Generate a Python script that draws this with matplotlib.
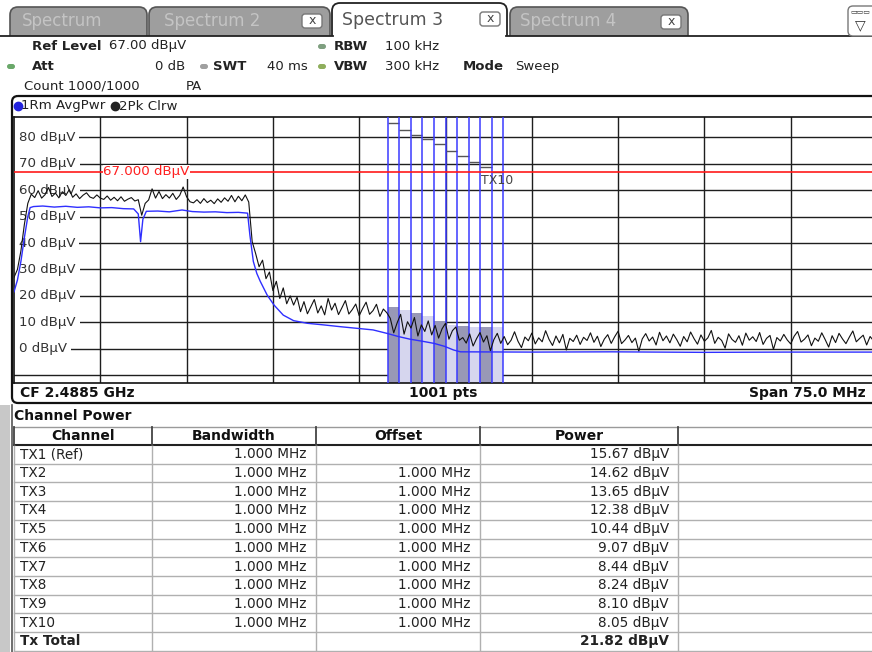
import matplotlib.pyplot as plt
import numpy as np
from matplotlib.patches import FancyBboxPatch, Rectangle

# ---- trace data (MHz from start of span, dBuV) ----
sweep_step = 0.3  # MHz between samples of the peak trace
pk_clrw = [
    27, 30, 37, 47, 55,
    58.5, 57.2, 59.8, 57.0, 58.3, 61.0, 57.6, 58.9, 57.1, 59.4, 58.0, 60.2, 57.3, 58.6, 56.8, 58.1,
    59.0, 57.4, 56.9, 58.2, 57.0, 56.5, 57.8, 56.2, 57.3, 56.0, 57.5, 55.8, 56.6, 57.2, 55.9, 56.4,
    50.5,
    55.0, 56.3, 60.5, 57.0, 59.5, 56.8, 58.3, 57.0, 58.8, 56.5, 58.0, 61.2, 57.5, 55.6, 55.2, 56.4,
    55.0, 56.8, 55.3, 56.2, 54.9, 56.7, 55.4, 57.1, 55.8, 58.0, 55.6, 57.7, 56.0, 58.2, 55.5,
    40.5, 36.0, 31.0, 33.5, 26.5, 29.0, 22.0, 25.5, 19.0, 23.0, 17.0, 20.0,
    16.5, 19.5, 14.0, 17.8, 13.2, 15.9, 18.6, 13.5, 16.2, 12.8, 19.0, 14.6, 17.2, 12.9, 15.5, 18.2,
    13.1, 14.8, 16.9, 12.5, 15.2, 17.6, 13.0, 14.4, 16.8, 12.2, 15.0, 13.6,
    11.5, 6.0, 9.8, 13.0, 5.5, 10.2, 7.8, 11.8, 4.8, 9.0, 6.5, 10.5, 5.2, 8.8, 4.0, 7.5, 9.6, 3.6,
    6.8, 8.2, 3.2,
    4.2, 2.1, 5.6, 1.0, 3.8, 6.1, 2.5, 4.9, -0.8, 3.4, 5.8, 2.0,
    4.6, 1.5, 3.2, 6.4, 2.8, 0.4, 4.4, 3.0, 5.9, 1.8, 4.1, 2.6,
    6.8, 3.5, 1.2, 4.8, 2.2, 5.4, -0.5, 3.9, 2.7, 5.1, 1.6, 4.3,
    3.1, 6.0, 2.4, 4.7, 0.8, 3.6, 5.3, 2.0, 4.5, 6.6, 1.9, 3.3,
    5.0, 2.3, 4.0, -1.0, 3.7, 5.7, 2.9, 4.4, 1.4, 6.2, 3.0, 4.8,
    2.2, 5.5, 3.4, 0.9, 4.6, 2.6, 6.3, 3.8, 1.7, 5.2, 2.8, 4.1,
    6.9, 2.0, 4.3, 3.1, 0.2, 5.6, 3.5, 2.4, 4.9, 1.3, 5.9, 3.2,
    4.5, 2.7, 6.1, 1.6, 3.9, 5.0, -0.3, 4.2, 2.9, 5.4, 3.3, 1.8,
    4.7, 6.5, 2.5, 3.6, 5.2, 1.1, 4.0, 2.8, 6.0, 3.4, 0.6, 4.9,
    2.3, 5.8, 3.7, 1.9, 4.4, 6.7, 2.6, 3.9, 5.1, 1.4, 4.6, 3.0,
]
avg_f = [0.0, 0.3, 0.6, 0.9, 1.2, 1.4, 1.7, 2.5, 3.5, 4.5, 5.5, 6.5, 7.5, 8.5, 9.5, 10.4, 10.8,
         11.0, 11.2, 11.5, 12.5, 13.5, 14.6, 15.5, 16.5, 17.5, 18.5, 19.5, 20.3, 20.5, 20.8, 21.1,
         21.4, 22.0, 22.6, 23.4, 24.3, 25.5, 26.9, 28.4, 29.8, 31.2, 32.4, 33.4, 34.4, 35.5, 36.5,
         37.4, 38.2, 38.8, 45.0, 52.0, 60.0, 67.0, 74.6]
avg_db = [21.5, 26.0, 33.0, 42.0, 50.0, 53.4, 53.8, 54.0, 53.6, 53.9, 53.5, 53.7, 53.3, 53.4, 53.0,
          52.9, 51.0, 40.5, 49.0, 52.0, 52.1, 51.8, 52.5, 51.9, 51.7, 51.8, 51.5, 51.6, 51.3, 43.0,
          33.0, 28.5, 25.5, 20.3, 16.5, 12.7, 10.6, 9.6, 9.0, 8.3, 7.7, 7.1, 5.8, 4.6, 3.6, 2.8,
          2.0, 0.9, -0.5, -1.2, -1.3, -1.2, -1.4, -1.3, -1.3]

ref_level = 67.0
y_levels = [80, 70, 60, 50, 40, 30, 20, 10, 0]
channels = ['TX1 (Ref)', 'TX2', 'TX3', 'TX4', 'TX5', 'TX6', 'TX7', 'TX8', 'TX9', 'TX10']
bandwidth = ['1.000 MHz'] * 10
offset = [''] + ['1.000 MHz'] * 9
power = [15.67, 14.62, 13.65, 12.38, 10.44, 9.07, 8.44, 8.24, 8.10, 8.05]
tx_total = 21.82
chan_start = 32.5  # MHz, left edge of TX1
label_levels = [85.3, 82.8, 80.8, 79.2, 77.4, 74.9, 72.9, 70.8, 68.9, 66.9]

W, H = 872, 652
fig = plt.figure(figsize=(W / 100, H / 100), dpi=100)

# screen chrome, drawn in pixel coordinates
ui = fig.add_axes([0, 0, 1, 1])
ui.set_xlim(0, W)
ui.set_ylim(H, 0)
ui.axis('off')


def tab(x0, x1, y0, fc, ec, lw=1.2):
    ui.add_patch(FancyBboxPatch((x0, y0), x1 - x0, 45 - y0, boxstyle='round,pad=0,rounding_size=8',
                                fc=fc, ec=ec, lw=lw, zorder=1))


def close_btn(x, y):
    ui.add_patch(FancyBboxPatch((x, y), 20, 14, boxstyle='round,pad=0,rounding_size=3',
                                fc='white', ec='#777777', lw=1, zorder=3))
    ui.text(x + 10, y + 6.5, 'x', ha='center', va='center', fontsize=9, color='#444444', zorder=4)


tab(10, 147, 7, '#9e9e9e', '#555555')
ui.text(62, 21, 'Spectrum', ha='center', va='center', fontsize=12, color='#c4c4c4', zorder=4)
tab(149, 330, 7, '#9e9e9e', '#555555')
ui.text(212, 21, 'Spectrum 2', ha='center', va='center', fontsize=12, color='#c4c4c4', zorder=4)
close_btn(302, 14)
tab(510, 688, 7, '#9e9e9e', '#555555')
ui.text(568, 21, 'Spectrum 4', ha='center', va='center', fontsize=12, color='#c4c4c4', zorder=4)
close_btn(661, 15)
ui.add_patch(Rectangle((0, 36), W, 60, fc='white', ec='none', zorder=2))
tab(332, 507, 3, 'white', '#222222', 1.3)
ui.add_patch(Rectangle((333.5, 36), 172, 12, fc='white', ec='none', zorder=2))
ui.text(342, 20, 'Spectrum 3', ha='left', va='center', fontsize=12.5, color='#555555', zorder=4)
close_btn(480, 12)
ui.plot([0, 333], [35.5, 35.5], color='#222222', lw=1.3, zorder=3)
ui.plot([506, W], [35.5, 35.5], color='#222222', lw=1.3, zorder=3)
ui.add_patch(FancyBboxPatch((848, 6), 40, 30, boxstyle='round,pad=0,rounding_size=5',
                            fc='white', ec='#777777', lw=1, zorder=3))
ui.text(860, 11, '▭▭▭', ha='center', va='center', fontsize=5, color='#333333', zorder=4)
ui.text(860, 25, '▽', ha='center', va='center', fontsize=10, color='#333333', zorder=4)

# setting lines
hdr = dict(fontsize=9.5, va='center', color='#222222', zorder=4)
ui.text(32, 46, 'Ref Level', fontweight='bold', **hdr)
ui.text(109, 46, '67.00 dBµV', **hdr)
ui.text(32, 66.5, 'Att', fontweight='bold', **hdr)
ui.text(185, 66.5, '0 dB', ha='right', **hdr)
ui.text(213, 66.5, 'SWT', fontweight='bold', **hdr)
ui.text(267, 66.5, '40 ms', **hdr)
ui.text(334, 46, 'RBW', fontweight='bold', **hdr)
ui.text(385, 46, '100 kHz', **hdr)
ui.text(334, 66.5, 'VBW', fontweight='bold', **hdr)
ui.text(385, 66.5, '300 kHz', **hdr)
ui.text(463, 66.5, 'Mode', fontweight='bold', **hdr)
ui.text(515, 66.5, 'Sweep', **hdr)
ui.text(24, 86, 'Count 1000/1000', **hdr)
ui.text(186, 86, 'PA', **hdr)
for (mx, my, mc) in [(7, 66.5, '#6aa86a'), (200, 66.5, '#a0a0a0'), (318, 46.5, '#7f9f80'), (318, 66.5, '#8fae5c')]:
    ui.add_patch(FancyBboxPatch((mx, my - 2.5), 8, 5, boxstyle='round,pad=0,rounding_size=2.5',
                                fc=mc, ec='none', zorder=4))

# diagram frame + trace legend + footer
ui.add_patch(FancyBboxPatch((12, 96), 890, 307, boxstyle='round,pad=0,rounding_size=6',
                            fc='none', ec='#111111', lw=1.6, zorder=4))
ui.plot([17.5], [106], 'o', ms=6, color='#2222dd', zorder=5)
ui.text(21, 106, '1Rm AvgPwr', fontsize=9.6, va='center', color='#222222', zorder=5)
ui.plot([115], [106], 'o', ms=6, color='#222222', zorder=5)
ui.text(119, 106, '2Pk Clrw', fontsize=9.6, va='center', color='#222222', zorder=5)
foot = dict(fontsize=10, fontweight='bold', va='center', color='#111111', zorder=5)
ui.text(20, 393, 'CF 2.4885 GHz', **foot)
ui.text(443, 393, '1001 pts', ha='center', **foot)
ui.text(866, 393, 'Span 75.0 MHz', ha='right', **foot)

# channel power table
ui.text(14, 415.5, 'Channel Power', fontsize=10, fontweight='bold', va='center', color='#111111')
ui.add_patch(Rectangle((0, 405), 10, H - 405, fc='#c8c8c8', ec='none'))
ui.plot([11.5, 11.5], [405, H], color='#555555', lw=1.2)
col_x = [14, 152, 316, 480, 678]
top, row_h = 426.7, 18.7
head_bot = 445.0
ui.plot([14, W], [top, top], color='#9a9a9a', lw=1)
ui.plot([14, W], [head_bot, head_bot], color='#222222', lw=1.5)
n_rows = len(channels) + 1
for k in range(1, n_rows + 1):
    yy = head_bot + k * row_h
    ui.plot([14, W], [yy, yy], color='#b0b0b0', lw=1)
for cx in col_x:
    ui.plot([cx, cx], [head_bot, H], color='#b0b0b0', lw=1)
    ui.plot([cx, cx], [top, head_bot], color='#444444', lw=1.3)
heads = ['Channel', 'Bandwidth', 'Offset', 'Power']
for i, h in enumerate(heads):
    ui.text((col_x[i] + col_x[i + 1]) / 2, (top + head_bot) / 2 + 0.5, h, ha='center', va='center',
            fontsize=10, fontweight='bold', color='#111111')
cell = dict(fontsize=9.8, va='center', color='#222222')
for k, name in enumerate(channels):
    yc = head_bot + (k + 0.5) * row_h
    ui.text(20, yc, name, ha='left', **cell)
    ui.text(306, yc, bandwidth[k], ha='right', **cell)
    ui.text(470, yc, offset[k], ha='right', **cell)
    ui.text(669, yc, f'{power[k]:.2f} dBµV', ha='right', **cell)
yc = head_bot + (len(channels) + 0.5) * row_h
ui.text(20, yc, 'Tx Total', ha='left', fontweight='bold', **cell)
ui.text(669, yc, f'{tx_total:.2f} dBµV', ha='right', fontweight='bold', **cell)

# ---- spectrum diagram ----
px_per_mhz = 86.3 / 7.5
ax = fig.add_axes([14 / W, 1 - 383 / H, (W - 14) / W, 266 / H])
ax.set_xlim(0, (W - 14) / px_per_mhz)
ax.set_ylim(-13.0, 87.7)
ax.set_xticks([])
ax.set_yticks([])
for s in ['top', 'left', 'bottom']:
    ax.spines[s].set_color('#111111')
    ax.spines[s].set_linewidth(1.2)
ax.spines['right'].set_visible(False)

for k in range(1, 10):
    ax.axvline(7.5 * k, color='#1e1e1e', lw=1.0, zorder=1)
for v in [-10] + y_levels:
    ax.axhline(v, color='#1e1e1e', lw=1.0, zorder=1)
for v in y_levels:
    ax.text(0.4, v, f'{v} dBµV', ha='left', va='center', fontsize=9.6, color='#333333', zorder=2,
            bbox=dict(fc='white', ec='none', pad=3.2))

# channel bars, edges and label staircase
bar_cols = ['#9898b6', '#d6d6ee']
for k, p in enumerate(power):
    ax.bar(chan_start + k + 0.5, p + 13.0, bottom=-13.0, width=1.0, color=bar_cols[k % 2],
           edgecolor='none', zorder=2)
    ax.hlines(label_levels[k], chan_start + k, chan_start + k + 1, color='#555555', lw=1.0, zorder=3)
for k in range(len(power) + 1):
    ax.axvline(chan_start + k, color='#3a3aff', lw=1.1, zorder=3)
ax.text(40.55, 63.6, 'TX10', fontsize=9, color='#444444', va='center', zorder=4)

ax.axhline(ref_level, color='#ff1a1a', lw=1.2, zorder=3)
ax.text(7.73, ref_level, '67.000 dBµV', fontsize=9.6, color='#ff2020', ha='left', va='center',
        zorder=4, bbox=dict(fc='white', ec='none', pad=0.3))

pk_f = np.arange(len(pk_clrw)) * sweep_step
ax.plot(pk_f, pk_clrw, color='#111111', lw=0.8, zorder=5)
ax.plot(avg_f, avg_db, color='#2f2fff', lw=1.0, zorder=6)

fig.savefig('out.png', dpi=100)
